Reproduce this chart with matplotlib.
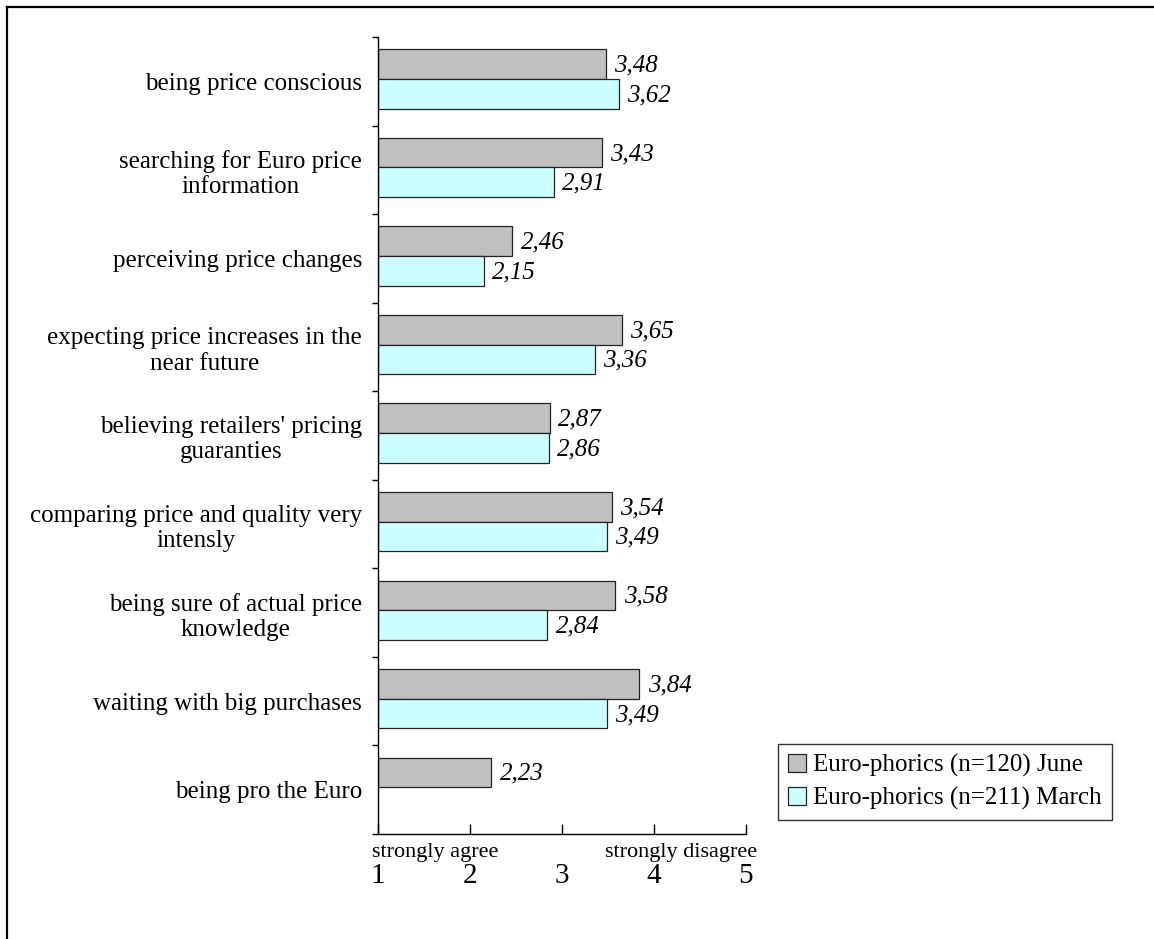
import numpy as np
import matplotlib.pyplot as plt
from matplotlib.lines import Line2D

plt.rcParams["font.family"] = ["Liberation Serif", "DejaVu Serif"]

categories = [
    "being price conscious",
    "searching for Euro price\ninformation",
    "perceiving price changes",
    "expecting price increases in the\nnear future",
    "believing retailers' pricing\nguaranties",
    "comparing price and quality very\nintensly",
    "being sure of actual price\nknowledge",
    "waiting with big purchases",
    "being pro the Euro",
]
june = [3.48, 3.43, 2.46, 3.65, 2.87, 3.54, 3.58, 3.84, 2.23]
march = [3.62, 2.91, 2.15, 3.36, 2.86, 3.49, 2.84, 3.49, np.nan]
series_labels = ["Euro-phorics (n=120) June", "Euro-phorics (n=211) March"]
scale_ticks = [1, 2, 3, 4, 5]

GRAY = "#C0C0C0"
CYAN = "#CCFFFF"

fig = plt.figure(figsize=(11.54, 9.39), dpi=100)
ax = fig.add_axes([378 / 1154, 105 / 939, 368 / 1154, 797 / 939])

y = np.arange(len(categories))
h = 0.335
june_arr = np.array(june)
march_arr = np.array(march)
ok = ~np.isnan(march_arr)

b1 = ax.barh(y + 0.305, june_arr - 1, left=1, height=h, color=GRAY,
             edgecolor="#222222", linewidth=0.9, label=series_labels[0])
b2 = ax.barh(y[ok] + 0.64, march_arr[ok] - 1, left=1, height=h, color=CYAN,
             edgecolor="#222222", linewidth=0.9, label=series_labels[1])

# value labels, comma as decimal sign
for yy, v in zip(y + 0.305, june_arr):
    ax.annotate(f"{v:.2f}".replace(".", ","), (v, yy), xytext=(6, -1),
                textcoords="offset points", va="center", ha="left",
                fontsize=18, style="italic")
for yy, v in zip(y[ok] + 0.64, march_arr[ok]):
    ax.annotate(f"{v:.2f}".replace(".", ","), (v, yy), xytext=(6, -1),
                textcoords="offset points", va="center", ha="left",
                fontsize=18, style="italic")

ax.set_xlim(1, 5)
ax.set_ylim(len(categories), 0)

ax.set_yticks(np.arange(len(categories) + 1))
ax.set_yticklabels([])
ax.set_yticks(y + 0.5, minor=True)
ax.set_yticklabels(categories, minor=True, fontsize=18, ha="right",
                   multialignment="center")
ax.tick_params(axis="y", which="major", direction="out", length=4.5, width=1)
ax.tick_params(axis="y", which="minor", length=0, pad=11.5)

ax.set_xticks(scale_ticks)
ax.set_xticklabels([str(t) for t in scale_ticks], fontsize=21)
ax.tick_params(axis="x", direction="in", length=7, width=1, pad=21)

ax.text(0.935, -0.023, "strongly agree", transform=ax.get_xaxis_transform(),
        ha="left", va="center", fontsize=16)
ax.text(5.12, -0.023, "strongly disagree", transform=ax.get_xaxis_transform(),
        ha="right", va="center", fontsize=16)

for s in ["top", "right"]:
    ax.spines[s].set_visible(False)
for s in ["left", "bottom"]:
    ax.spines[s].set_linewidth(1)

leg = fig.legend(handles=[b1, b2], loc="upper left",
                 bbox_to_anchor=(778 / 1154, 1 - 744 / 939), fontsize=18,
                 frameon=True, fancybox=False, edgecolor="black",
                 handlelength=0.7, handleheight=0.7, handletextpad=0.3,
                 borderpad=0.4, labelspacing=0.4, borderaxespad=0)
leg.get_frame().set_linewidth(1)

fig.add_artist(Line2D([7 / 1154, 1], [1 - 7 / 939, 1 - 7 / 939],
                      color="black", linewidth=1.6, transform=fig.transFigure))
fig.add_artist(Line2D([7 / 1154, 7 / 1154], [0, 1 - 7 / 939],
                      color="black", linewidth=1.6, transform=fig.transFigure))

fig.savefig("out.png", dpi=100)
